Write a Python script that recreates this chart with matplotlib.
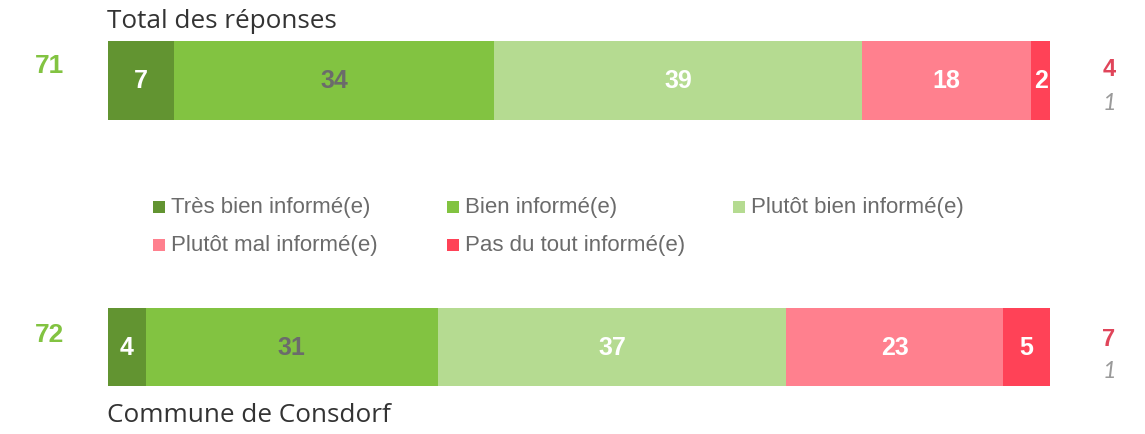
import matplotlib
matplotlib.use("Agg")
import matplotlib.pyplot as plt
from matplotlib.patches import Rectangle

categories = ["Très bien informé(e)", "Bien informé(e)", "Plutôt bien informé(e)",
              "Plutôt mal informé(e)", "Pas du tout informé(e)"]
groups = ["Total des réponses", "Commune de Consdorf"]
total_values = [7, 34, 39, 18, 2]
consdorf_values = [4, 31, 37, 23, 5]
positive_totals = [71, 72]
negative_totals = [4, 7]
missing_counts = [1, 1]

colors = ["#629431", "#82C341", "#B5DB91", "#FF808E", "#FF4257"]
label_colors = ["white", "#6b6b6b", "white", "white", "white"]

W, H = 1145, 434
fig = plt.figure(figsize=(W / 100, H / 100), dpi=100)

# main axes for bars: x 0..100 maps to pixel 108..1050
ax = fig.add_axes([108 / W, 0, 942 / W, 1])
ax.set_xlim(0, 100)
ax.set_ylim(H, 0)
ax.axis("off")

# overlay axes in pixel coordinates for text
ov = fig.add_axes([0, 0, 1, 1], zorder=3)
ov.set_xlim(0, W)
ov.set_ylim(H, 0)
ov.axis("off")
ov.patch.set_alpha(0)

bar_rows = [(total_values, 80.5, 79), (consdorf_values, 347, 78)]
for values, yc, h in bar_rows:
    left = 0
    for v, c, lc in zip(values, colors, label_colors):
        ax.barh(yc, v, left=left, height=h, color=c, edgecolor="none")
        ax.text(left + v / 2, yc + 1, str(v), ha="center", va="center",
                color=lc, fontsize=18, fontweight="bold", family="Liberation Sans")
        left += v

# group titles
ov.text(107, 21, groups[0], ha="left", va="center", fontsize=18.8,
        color="#333333", family="Open Sans")
ov.text(107, 416, groups[1], ha="left", va="center", fontsize=18.8,
        color="#333333", family="Open Sans")

# side numbers
for (yc, pos, neg, mis) in [(66, positive_totals[0], negative_totals[0], missing_counts[0]),
                            (335, positive_totals[1], negative_totals[1], missing_counts[1])]:
    ov.text(49, yc, str(pos), ha="center", va="center", fontsize=19,
            fontweight="bold", color="#82C341", family="Liberation Sans")
    ov.text(1109, yc + 4, str(neg), ha="center", va="center", fontsize=17,
            fontweight="bold", color="#E0455A", family="Liberation Sans")
    ov.text(1109, yc + 37, str(mis), ha="center", va="center", fontsize=17,
            style="italic", color="#9a9a9a", family="Lato")

# legend
legend_pos = [(153, 207), (447, 207), (733, 207), (153, 245), (447, 245)]
for (lx, ly), cat, c in zip(legend_pos, categories, colors):
    ov.add_patch(Rectangle((lx, ly - 6), 12, 12, color=c, lw=0))
    ov.text(lx + 18, ly, cat, ha="left", va="center", fontsize=16,
            color="#6b6b6b", family="Liberation Sans")

fig.savefig("out.png", dpi=100)
